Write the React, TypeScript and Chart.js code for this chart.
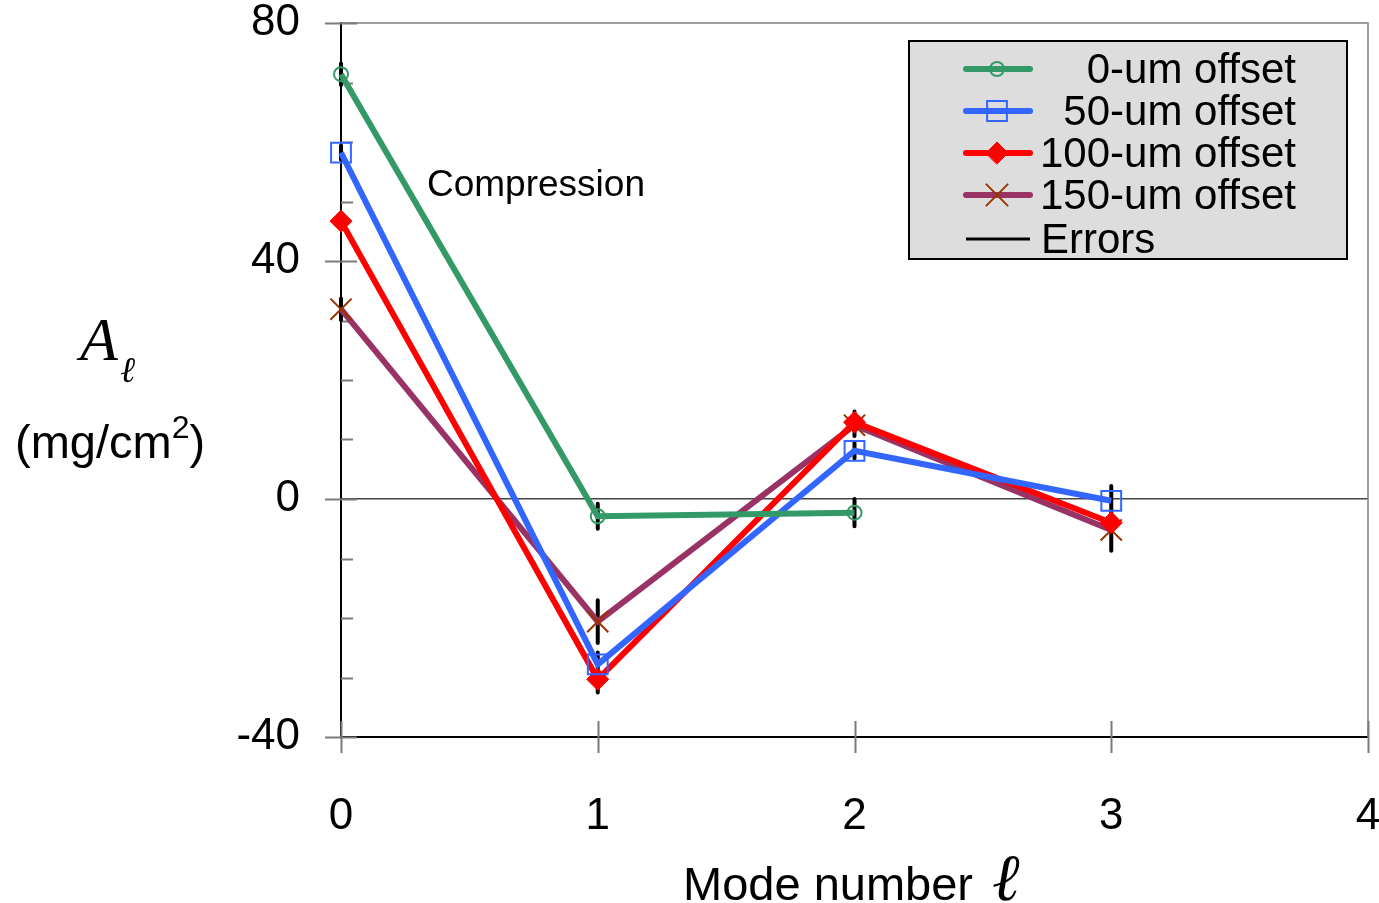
import React, { useEffect, useRef } from "react";
import { Chart, registerables } from "chart.js";
import { drawPoint } from "chart.js/helpers";

Chart.register(...registerables);

// Mode numbers and amplitudes A_l (mg/cm^2) for each target offset
const modes = [0, 1, 2, 3];
const offset0 = [71.4, -2.9, -2.3];
const offset50 = [58.2, -27.8, 8.1, -0.3];
const offset100 = [46.7, -30.3, 12.9, -4.0];
const offset150 = [31.9, -20.6, 12.4, -5.2];

// Error-bar half-heights for each point
const err0 = [1.8, 2.1, 2.3];
const err50 = [1.2, 2.0, 1.3, 2.5];
const err100 = [1.0, 2.2, 1.8, 2.0];
const err150 = [1.8, 3.6, 1.8, 3.5];

const seriesNames = ["0-um offset", "50-um offset", "100-um offset", "150-um offset"];
const yMajorTicks = [-40, 0, 40, 80];
const yMinorTicks = [-30, -20, -10, 10, 20, 30, 50, 60, 70];
const xTicks = [0, 1, 2, 3, 4];

const SANS = "'Liberation Sans', Arial, sans-serif";
const SERIF = "'Liberation Serif', 'Times New Roman', serif";

const styles = [
  { line: "#339966", point: "circle", radius: 7, stroke: "#339966", fill: "rgba(0,0,0,0)", pw: 2 },
  { line: "#3366FF", point: "rect", radius: 14, stroke: "#3366FF", fill: "rgba(0,0,0,0)", pw: 2 },
  { line: "#FF0000", point: "rectRot", radius: 11, stroke: "#FF0000", fill: "#FF0000", pw: 1 },
  { line: "#993366", point: "crossRot", radius: 15, stroke: "#993300", fill: "#993300", pw: 2 },
];

const seriesValues = [offset0, offset50, offset100, offset150];
const seriesErrors = [err0, err50, err100, err150];

const decorations = {
  id: "decorations",
  beforeDatasetsDraw(chart: any) {
    const { ctx, chartArea } = chart;
    const x = chart.scales.x;
    const y = chart.scales.y;
    ctx.save();
    // top and right frame of the plot area
    ctx.strokeStyle = "#808080";
    ctx.lineWidth = 1.5;
    ctx.beginPath();
    ctx.moveTo(chartArea.left, chartArea.top);
    ctx.lineTo(chartArea.right, chartArea.top);
    ctx.lineTo(chartArea.right, chartArea.bottom);
    ctx.stroke();

    // y-axis tick marks: major cross the axis, minor point inward
    ctx.strokeStyle = "#7a7a7a";
    ctx.lineWidth = 2;
    ctx.beginPath();
    for (const v of yMajorTicks) {
      const py = Math.round(y.getPixelForValue(v)) + 0.5;
      ctx.moveTo(chartArea.left - 16, py);
      ctx.lineTo(chartArea.left + 16, py);
    }
    for (const v of yMinorTicks) {
      const py = Math.round(y.getPixelForValue(v)) + 0.5;
      ctx.moveTo(chartArea.left, py);
      ctx.lineTo(chartArea.left + 12, py);
    }
    // x-axis tick marks crossing the axis
    for (const v of xTicks) {
      const px = Math.round(x.getPixelForValue(v)) + 0.5;
      ctx.moveTo(px, chartArea.bottom - 16);
      ctx.lineTo(px, chartArea.bottom + 16);
    }
    ctx.stroke();

    // error bars
    ctx.strokeStyle = "#000";
    ctx.lineWidth = 4;
    ctx.lineCap = "round";
    ctx.beginPath();
    seriesValues.forEach((vals, si) => {
      vals.forEach((v, i) => {
        const e = seriesErrors[si][i];
        const px = x.getPixelForValue(modes[i]);
        ctx.moveTo(px, y.getPixelForValue(v + e));
        ctx.lineTo(px, y.getPixelForValue(v - e));
      });
    });
    ctx.stroke();
    ctx.restore();
  },
  afterDraw(chart: any) {
    const { ctx } = chart;
    ctx.save();
    // annotation
    ctx.fillStyle = "#000";
    ctx.font = `37px ${SANS}`;
    ctx.textAlign = "left";
    ctx.textBaseline = "middle";
    ctx.fillText("Compression", 427, 186);

    // legend box
    const bx = 909, by = 41, bw = 438, bh = 218;
    ctx.fillStyle = "#DDDDDD";
    ctx.fillRect(bx, by, bw, bh);
    ctx.strokeStyle = "#000";
    ctx.lineWidth = 2;
    ctx.strokeRect(bx, by, bw, bh);

    const rows = [69, 111, 153, 195, 239];
    ctx.font = `42px ${SANS}`;
    ctx.textBaseline = "middle";
    styles.forEach((s, i) => {
      const ry = rows[i];
      ctx.strokeStyle = s.line;
      ctx.lineWidth = 6;
      ctx.lineCap = "round";
      ctx.beginPath();
      ctx.moveTo(966, ry);
      ctx.lineTo(1030, ry);
      ctx.stroke();
      ctx.strokeStyle = s.stroke;
      ctx.fillStyle = s.fill;
      ctx.lineWidth = s.pw;
      drawPoint(ctx, { pointStyle: s.point as any, radius: s.radius, rotation: 0, borderWidth: s.pw }, 997, ry);
      ctx.fillStyle = "#000";
      ctx.textAlign = "right";
      ctx.fillText(seriesNames[i], 1296, ry + 2);
    });
    ctx.strokeStyle = "#000";
    ctx.lineWidth = 3;
    ctx.lineCap = "butt";
    ctx.beginPath();
    ctx.moveTo(966, rows[4]);
    ctx.lineTo(1030, rows[4]);
    ctx.stroke();
    ctx.fillStyle = "#000";
    ctx.textAlign = "left";
    ctx.fillText("Errors", 1041, rows[4] + 2);
    ctx.restore();
  },
};

// keep the plot rectangle fixed: no extra space for overhanging tick labels
function noScalePadding(s: any) {
  s.paddingTop = 0;
  s.paddingBottom = 0;
  s.paddingLeft = 0;
  s.paddingRight = 0;
}

export default function App() {
  const canvasRef = useRef<HTMLCanvasElement | null>(null);

  useEffect(() => {
    document.body.style.margin = "0";
    const canvas = canvasRef.current;
    if (!canvas) return;
    const datasets = seriesValues.map((vals, si) => {
      const s = styles[si];
      return {
        label: seriesNames[si],
        data: vals.map((v, i) => ({ x: modes[i], y: v })),
        borderColor: s.line,
        borderWidth: 6,
        pointStyle: s.point,
        pointRadius: s.radius,
        pointBorderColor: s.stroke,
        pointBackgroundColor: s.fill,
        pointBorderWidth: s.pw,
        fill: false,
        tension: 0,
        clip: false,
      };
    });
    const chart = new Chart(canvas, {
      type: "line",
      data: { datasets: datasets as any },
      options: {
        responsive: false,
        animation: false,
        devicePixelRatio: 1,
        layout: { autoPadding: false, padding: { top: 23, right: 11, left: 0, bottom: 0 } },
        plugins: { legend: { display: false }, tooltip: { enabled: false } },
        scales: {
          x: {
            type: "linear",
            min: 0,
            max: 4,
            ticks: { stepSize: 1, color: "#000", font: { family: SANS, size: 44 }, padding: 53, maxRotation: 0 },
            grid: { display: false, drawTicks: false },
            border: { display: true, color: "#000", width: 2 },
            afterFit(s: any) {
              s.height = 166;
              noScalePadding(s);
            },
          },
          y: {
            type: "linear",
            min: -40,
            max: 80,
            ticks: { stepSize: 40, color: "#000", font: { family: SANS, size: 44 }, padding: 41 },
            grid: {
              drawTicks: false,
              color: (c: any) => (c.tick && c.tick.value === 0 ? "#444" : "rgba(0,0,0,0)"),
              lineWidth: 1.5,
            },
            border: { display: true, color: "#000", width: 2 },
            afterFit(s: any) {
              s.width = 341;
              noScalePadding(s);
            },
          },
        },
      },
      plugins: [decorations],
    });
    return () => chart.destroy();
  }, []);

  return (
    <div style={{ position: "absolute", left: 0, top: 0, width: 1379, height: 903, background: "#fff" }}>
      <canvas ref={canvasRef} width={1379} height={903} style={{ display: "block" }} />
      {/* y-axis title */}
      <div style={{ position: "absolute", left: 80, top: 304, fontFamily: SERIF, fontStyle: "italic", fontSize: 62, lineHeight: "70px", color: "#000" }}>
        A
      </div>
      <div style={{ position: "absolute", left: 120, top: 350, fontFamily: SERIF, fontStyle: "italic", fontSize: 36, lineHeight: "40px", color: "#000" }}>
        ℓ
      </div>
      <div style={{ position: "absolute", left: 15, top: 415, fontFamily: SANS, fontSize: 47, lineHeight: "54px", color: "#000", whiteSpace: "nowrap" }}>
        (mg/cm<span style={{ fontSize: 32, position: "relative", top: -20 }}>2</span>)
      </div>
      {/* x-axis title */}
      <div style={{ position: "absolute", left: 683, top: 850, fontFamily: SANS, fontSize: 47, lineHeight: "56px", color: "#000", whiteSpace: "nowrap" }}>
        Mode number{" "}
        <span style={{ fontFamily: SERIF, fontStyle: "italic", fontSize: 66, marginLeft: 6 }}>ℓ</span>
      </div>
    </div>
  );
}
